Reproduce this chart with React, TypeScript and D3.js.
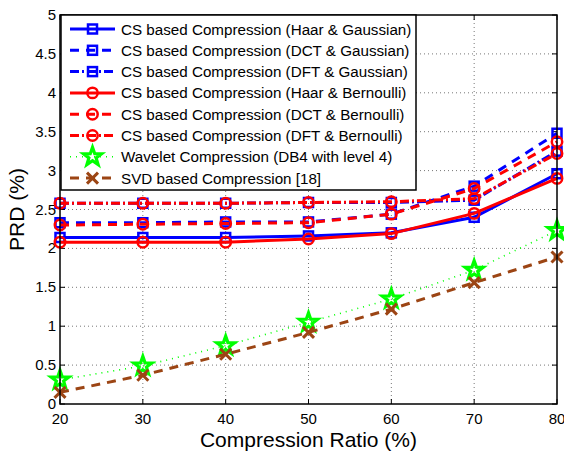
import * as d3 from "d3";

const width = 564;
const height = 452;
const margin = { left: 60, right: 7, top: 15, bottom: 48 };

const ratios = [20, 30, 40, 50, 60, 70, 80];
const haarGauss = [2.14, 2.14, 2.14, 2.16, 2.2, 2.4, 2.96];
const dctGauss = [2.33, 2.33, 2.34, 2.34, 2.44, 2.8, 3.48];
const dftGauss = [2.58, 2.58, 2.58, 2.59, 2.59, 2.62, 3.25];
const haarBern = [2.08, 2.08, 2.08, 2.12, 2.19, 2.45, 2.9];
const dctBern = [2.3, 2.31, 2.32, 2.33, 2.44, 2.77, 3.37];
const dftBern = [2.58, 2.58, 2.58, 2.59, 2.6, 2.64, 3.22];
const wavelet = [0.31, 0.49, 0.75, 1.05, 1.35, 1.72, 2.23];
const svd = [0.15, 0.37, 0.64, 0.92, 1.22, 1.56, 1.89];

const xTicks = [20, 30, 40, 50, 60, 70, 80];
const yTicks = [0, 0.5, 1, 1.5, 2, 2.5, 3, 3.5, 4, 4.5, 5];

const series = [
  { name: "CS based Compression (Haar & Gaussian)", values: haarGauss, color: "#0000ff", dash: "none", marker: "square" },
  { name: "CS based Compression (DCT & Gaussian)", values: dctGauss, color: "#0000ff", dash: "9,7", marker: "square" },
  { name: "CS based Compression (DFT & Gaussian)", values: dftGauss, color: "#0000ff", dash: "9,3,2,3", marker: "square" },
  { name: "CS based Compression (Haar & Bernoulli)", values: haarBern, color: "#ff0000", dash: "none", marker: "circle" },
  { name: "CS based Compression (DCT & Bernoulli)", values: dctBern, color: "#ff0000", dash: "9,7", marker: "circle" },
  { name: "CS based Compression (DFT & Bernoulli)", values: dftBern, color: "#ff0000", dash: "9,3,2,3", marker: "circle" },
  { name: "Wavelet Compression (DB4 with level 4)", values: wavelet, color: "#00ff00", dash: "1,5", marker: "star" },
  { name: "SVD based Compression [18]", values: svd, color: "#9c4514", dash: "9,7", marker: "x" },
];

const font = "'Liberation Sans', Arial, Helvetica, sans-serif";

const starPath = (() => {
  const pts: [number, number][] = [];
  for (let i = 0; i < 10; i++) {
    const r = i % 2 === 0 ? 9.5 : 3.8;
    const a = -Math.PI / 2 + (i * Math.PI) / 5;
    pts.push([r * Math.cos(a), r * Math.sin(a)]);
  }
  return "M" + pts.map((p) => p.join(",")).join("L") + "Z";
})();

function Marker({ type, x, y, color }: { type: string; x: number; y: number; color: string }) {
  if (type === "square")
    return <rect x={x - 4.5} y={y - 4.5} width={9} height={9} fill="none" stroke={color} strokeWidth={2.5} />;
  if (type === "circle")
    return <circle cx={x} cy={y} r={5.2} fill="none" stroke={color} strokeWidth={2.5} />;
  if (type === "star")
    return <path d={starPath} transform={`translate(${x},${y})`} fill="none" stroke={color} strokeWidth={3.2} strokeLinejoin="miter" />;
  return (
    <path
      d="M-5.5,-5.5L5.5,5.5M-5.5,5.5L5.5,-5.5"
      transform={`translate(${x},${y})`}
      stroke={color}
      strokeWidth={3}
      fill="none"
    />
  );
}

export default function App() {
  const x = d3.scaleLinear().domain([20, 80]).range([margin.left, width - margin.right]);
  const y = d3.scaleLinear().domain([0, 5]).range([height - margin.bottom, margin.top]);
  const line = d3
    .line<number>()
    .x((_, i) => x(ratios[i]))
    .y((d) => y(d));

  const x0 = x(20);
  const x1 = x(80);
  const y0 = y(0);
  const y1 = y(5);

  const legend = { x: 61, y: 15, w: 355, h: 175, row0: 29, step: 21.3 };

  return (
    <svg width={width} height={height} style={{ position: "absolute", left: 0, top: 0 }} fontFamily={font}>
      <rect x={0} y={0} width={width} height={height} fill="white" />
      {/* grid */}
      {xTicks.slice(1, -1).map((t) => (
        <line key={"gx" + t} x1={x(t)} x2={x(t)} y1={y0} y2={y1} stroke="#777" strokeWidth={1} strokeDasharray="1,3" />
      ))}
      {yTicks.slice(1, -1).map((t) => (
        <line key={"gy" + t} x1={x0} x2={x1} y1={y(t)} y2={y(t)} stroke="#777" strokeWidth={1} strokeDasharray="1,3" />
      ))}
      {/* ticks */}
      {xTicks.map((t) => (
        <g key={"tx" + t}>
          <line x1={x(t)} x2={x(t)} y1={y0} y2={y0 - 5} stroke="black" />
          <line x1={x(t)} x2={x(t)} y1={y1} y2={y1 + 5} stroke="black" />
          <text x={x(t)} y={y0 + 20} fontSize={15} textAnchor="middle">
            {t}
          </text>
        </g>
      ))}
      {yTicks.map((t) => (
        <g key={"ty" + t}>
          <line x1={x0} x2={x0 + 5} y1={y(t)} y2={y(t)} stroke="black" />
          <line x1={x1} x2={x1 - 5} y1={y(t)} y2={y(t)} stroke="black" />
          <text x={x0 - 4} y={y(t) + 5} fontSize={15} textAnchor="end">
            {t}
          </text>
        </g>
      ))}
      {/* series */}
      {series.map((s) => (
        <g key={s.name}>
          <path
            d={line(s.values) ?? ""}
            fill="none"
            stroke={s.color}
            strokeWidth={s.marker === "star" ? 1.6 : 3}
            strokeDasharray={s.dash}
            strokeLinecap="butt"
          />
          {s.values.map((v, i) => (
            <Marker key={i} type={s.marker} x={x(ratios[i])} y={y(v)} color={s.color} />
          ))}
        </g>
      ))}
      {/* axes box */}
      <rect x={x0} y={y1} width={x1 - x0} height={y0 - y1} fill="none" stroke="black" strokeWidth={1.5} />
      {/* legend */}
      <rect x={legend.x} y={legend.y} width={legend.w} height={legend.h} fill="white" stroke="black" strokeWidth={1.5} />
      {series.map((s, i) => {
        const ly = legend.row0 + i * legend.step;
        return (
          <g key={"lg" + s.name}>
            <line
              x1={70}
              x2={115}
              y1={ly}
              y2={ly}
              stroke={s.color}
              strokeWidth={s.marker === "star" ? 1.6 : 3}
              strokeDasharray={s.dash}
              strokeLinecap="butt"
            />
            <Marker type={s.marker} x={92.5} y={ly} color={s.color} />
            <text x={121} y={ly + 5.5} fontSize={15.2}>
              {s.name}
            </text>
          </g>
        );
      })}
      {/* axis labels */}
      <text x={(x0 + x1) / 2} y={447} fontSize={21} textAnchor="middle">
        Compression Ratio (%)
      </text>
      <text transform={`translate(24,${(y0 + y1) / 2}) rotate(-90)`} fontSize={21} textAnchor="middle">
        PRD (%)
      </text>
    </svg>
  );
}
